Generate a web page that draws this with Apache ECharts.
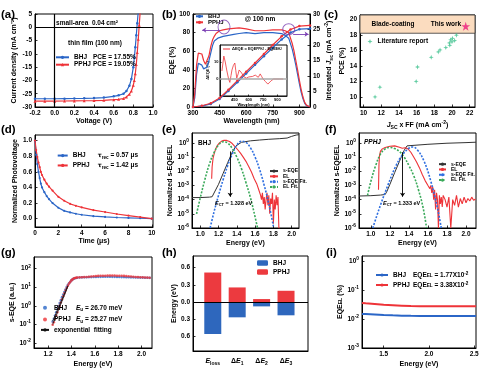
<!DOCTYPE html>
<html><head><meta charset="utf-8">
<script src="https://cdn.jsdelivr.net/npm/echarts@6/dist/echarts.min.js"></script>
<style>html,body{margin:0;padding:0;background:#fff}#c{width:500px;height:372px}</style>
</head><body><div id="c"></div>
<script>
// ---------------- DATA ----------------
// (a) J-V
const aVoltage = [-0.2,-0.1,0,0.1,0.2,0.3,0.4,0.5,0.6,0.65,0.7,0.73,0.76,0.78,0.8,0.81,0.82,0.83,0.84,0.85,0.86,0.87,0.88];
const aJ_BHJ  = [-26.9,-26.9,-26.9,-26.85,-26.8,-26.75,-26.65,-26.45,-26.0,-25.6,-25.0,-24.0,-22.0,-19.5,-15.0,-11.5,-7.5,-3.0,1.5,6.0,10,14,18];
const aJ_PPHJ = [-27.8,-27.8,-27.8,-27.75,-27.7,-27.65,-27.6,-27.5,-27.25,-27.1,-26.8,-26.2,-25.2,-24.0,-21.8,-20.0,-17.5,-14.0,-9.5,-4.5,0.8,6.0,11];
// (b) EQE + integrated Jsc
const bWave = [300,310,320,330,340,350,360,370,380,390,400,410,420,430,440,450,470,500,530,560,600,650,700,750,800,820,840,860,870,880,890,900,910,920,930,940,950,960];
const bEQE_BHJ  = [0,10,35,47,48,45,41,40,43,50,58,66,71,73,74,75,76,77,78,79,80,79,80,80,79,77,74,62,54,45,35,25,16,9,4,1.5,0.5,0];
const bEQE_PPHJ = [0,15,45,58,60,57,50,46,48,55,65,72,76,79,81,82,83,84,84.5,85,84,82,82,83,83,82,80,68,60,50,40,29,19,11,5,2,0.5,0];
const bJscWave  = [300,350,400,450,500,550,600,650,700,750,800,850,900,960];
const bJsc_BHJ  = [0,0.3,1.0,2.6,5.2,8.0,10.8,13.6,16.4,19.1,21.8,24.0,25.1,25.3];
const bJsc_PPHJ = [0,0.4,1.2,2.9,5.6,8.5,11.4,14.2,17.1,20.0,22.8,25.0,26.1,26.3];
const insWave  = [320,340,355,372,390,403,415,425,440,455,465,475,490,500,515,527,545,555,575,600,616,640,668,685,700,720,735,750,775,800,820,835,860,885,920,960];
const insDelta = [4.7,13.5,10,4.7,0,-2,2,5.3,8,9.4,5,0.6,3,5.3,4.5,3.5,1.5,0.6,0.5,1.2,1.8,1.5,2.3,1.5,1,3,1.5,0,-1.5,-3,-2,-1,0,0,0,0];
// (c) literature
const cJscFF = [11.3,11.85,15.95,16.1,17.65,18.45,18.65,19.3,19.7,19.75,19.85,20.05,20.3,20.5,20.0];
const cPCE   = [10.0,11.25,12.0,13.85,15.1,15.8,16.05,16.35,16.95,16.65,17.35,17.55,17.25,17.95,17.1];
const cThisWorkX = [21.55];
const cThisWorkY = [19.1];
// (d) TPV
const dTime = [0,0.1,0.2,0.3,0.4,0.5,0.6,0.8,1.0,1.2,1.5,2,2.5,3,3.5,4,5,6,7,8,9,10];
const dBHJ  = [1.0,0.82,0.70,0.60,0.52,0.45,0.40,0.34,0.29,0.25,0.20,0.14,0.10,0.08,0.063,0.05,0.032,0.022,0.015,0.01,0.005,0.0];
const dPPHJ = [1.0,0.88,0.79,0.72,0.66,0.60,0.56,0.50,0.45,0.41,0.36,0.28,0.23,0.19,0.165,0.145,0.11,0.085,0.06,0.04,0.02,0.0];
// (e) BHJ s-EQE / EL
const eE_sEQE = [0.91,1.0,1.1,1.13,1.15,1.2,1.25,1.3,1.35,1.39,1.45,1.55,1.65,1.75,1.87,1.95,2.0,2.05,2.08];
const eV_sEQE = [1.4e-4,1.4e-4,1.5e-4,1.6e-4,2e-4,1.2e-3,7e-3,4e-2,0.22,0.6,1.1,1.4,1.6,1.8,2.0,2.2,2.9,3.6,3.8];
const eE_EL = [1.125,1.13,1.14,1.155,1.17,1.19,1.21,1.235,1.26,1.29,1.32,1.35,1.38,1.41,1.44,1.47,1.5,1.53,1.56,1.59,1.62,1.64,1.66,1.67,1.68,1.69,1.70,1.71,1.72,1.73,1.74,1.75,1.76,1.77,1.78,1.79,1.80,1.81,1.82,1.83,1.84,1.85,1.86,1.87];
const eV_EL = [3e-3,2e-2,0.08,0.2,0.4,0.7,1.0,1.35,1.55,1.5,1.25,0.9,0.55,0.33,0.19,0.1,0.05,0.022,0.009,0.003,1.2e-3,5e-4,2e-4,1e-4,3e-4,5e-5,1.5e-4,2e-5,1e-4,3e-4,4e-5,2e-4,1e-5,1.2e-4,5e-5,3e-4,2e-6,1e-4,2e-5,2e-4,4e-5,1.5e-4,1e-6,1e-6];
const eE_sFit = [1.10,1.15,1.2,1.25,1.3,1.35,1.4,1.45,1.5,1.55,1.6,1.65,1.7,1.75,1.8];
const eV_sFit = [6e-7,1.3e-5,2e-4,2.5e-3,2.5e-2,0.16,0.7,1.3,1.1,0.45,0.1,1.3e-2,1e-3,5e-5,1.3e-6];
const eE_elFit = [0.96,1.0,1.05,1.1,1.15,1.2,1.25,1.3,1.35,1.4,1.45,1.5,1.55,1.6,1.63];
const eV_elFit = [1e-5,1.3e-4,2.5e-3,3.2e-2,0.2,0.7,1.2,1.0,0.4,0.1,1.6e-2,1.6e-3,1.3e-4,6e-6,8e-7];
// (f) PPHJ s-EQE / EL
const fE_sEQE = [0.875,1.0,1.1,1.15,1.17,1.2,1.25,1.3,1.35,1.38,1.4,1.6,1.8,2.0,2.105];
const fV_sEQE = [1.8e-4,1.9e-4,2.1e-4,2.3e-4,4e-4,1.2e-3,8e-3,5e-2,0.3,0.62,0.66,0.8,0.95,1.05,1.12];
const fE_EL = [1.08,1.085,1.09,1.1,1.12,1.15,1.2,1.25,1.3,1.33,1.36,1.39,1.42,1.45,1.48,1.51,1.54,1.57,1.6,1.62,1.63,1.64,1.65,1.66,1.67,1.68,1.69,1.70,1.71,1.72,1.73,1.74,1.75,1.76,1.78,1.8,1.82,1.84,1.86,1.88,1.9,1.92,1.94,1.96,1.98,2.0,2.02,2.04,2.06,2.08,2.1];
const fV_EL = [5e-4,0.03,0.12,0.25,0.38,0.48,0.58,0.62,0.5,0.42,0.45,0.38,0.22,0.1,0.045,0.018,6e-3,2.2e-3,1e-3,6e-4,1e-3,3e-4,8e-4,1e-4,5e-4,2e-5,3e-4,1e-4,1e-6,2e-4,5e-5,1.5e-4,3e-5,2e-4,1e-4,3e-5,1.5e-4,1e-6,1e-4,4e-5,2e-4,3e-5,1.2e-4,5e-5,1.5e-4,6e-5,1.2e-4,8e-5,1.5e-4,9e-5,1.1e-4];
const fE_sFit = [1.02,1.1,1.18,1.26,1.33,1.4,1.44,1.49,1.56,1.63,1.7,1.74];
const fV_sFit = [1e-6,4e-5,1.1e-3,2.2e-2,0.14,0.42,0.52,0.32,5e-2,2e-3,2.5e-5,1e-6];
const fE_elFit = [0.965,1.0,1.05,1.1,1.15,1.2,1.25,1.3,1.35,1.4,1.45,1.5,1.55,1.585];
const fV_elFit = [2e-4,2e-3,2.5e-2,0.16,0.38,0.48,0.4,0.25,0.1,2.5e-2,5e-3,5e-4,2.5e-5,1e-6];
// (g) Urbach
const gE = [1.24,1.25,1.26,1.27,1.28,1.29,1.30,1.31,1.32,1.33,1.34,1.35,1.36,1.37,1.38,1.39,1.40,1.41,1.42,1.43,1.44,1.45,1.47,1.49,1.51,1.53,1.55,1.57,1.59,1.61,1.63,1.65,1.67,1.69,1.71,1.73,1.75,1.77,1.79,1.81,1.83,1.85,1.87,1.89,1.91,1.93,1.95,1.97,1.99,2.01,2.03,2.05,2.07];
const gBHJ = [0.14,0.2,0.3,0.45,0.65,0.95,1.4,2.0,2.9,4.0,5.5,7.5,10,13,16,19.5,23,26,28.5,30,31,32,33,33.5,34,34,34.5,34.5,35,35,35.5,35.5,36,36,36,36,35.5,35.5,35,35,34.5,34.5,34,34,33.5,33.5,33,33,32.5,32.5,32,32,31.5];
const gPPHJ = [0.095,0.13,0.2,0.3,0.45,0.68,1.0,1.5,2.2,3.2,4.6,6.5,9,12,15.5,19,23,26,29,31,32,33,33.5,34,34.5,35,36,37,38,39,40,40.5,41,41,41.5,41.5,41.5,41.5,41,41,40.5,40,39,38,37,36,35,34.5,34,33.5,33,32.5,32];
const gFitE = [1.24,1.37];
const gFitBHJ = [0.15,12];
const gFitPPHJ = [0.1,11];
// (h) energy loss
const hCats  = ['E_loss','ΔE_1','ΔE_2','ΔE_3'];
const hBHJ   = [-0.555,-0.265,-0.075,-0.23];
const hPPHJ  = [0.513,0.254,0.052,0.196];
// (i) EQE_EL
const iE = [1.26,1.3,1.4,1.5,1.6,1.7,1.8,1.9,2.0,2.1,2.2,2.3,2.4,2.52];
const iBHJ  = [0.0150,0.0148,0.0143,0.0138,0.0134,0.0131,0.0129,0.0128,0.0127,0.0127,0.0127,0.0128,0.0128,0.0128];
const iPPHJ = [0.036,0.035,0.033,0.031,0.030,0.029,0.028,0.0278,0.0276,0.0275,0.0275,0.0274,0.0274,0.0274];

// ---------------- STYLE / HELPERS ----------------
const FONT = "'Liberation Sans', Arial, sans-serif";
const BLUE = '#2b66c7', RED = '#ee3338', GREEN = '#3cc08c', DGREEN = '#3aa95a', DBLUE = '#2f6fe0';
const PINK = '#ec1c7c', PURPLE = '#7b3fb3', PEACH = '#fbdcbf';
const STAR4 = 'path://M5,0 L6.3,3.7 L10,5 L6.3,6.3 L5,10 L3.7,6.3 L0,5 L3.7,3.7 Z';
const STAR5 = 'path://M50,0L61.8,35.1L98.8,35.1L68.9,56.8L80.3,91.9L50,70.2L19.7,91.9L31.1,56.8L1.2,35.1L38.2,35.1Z';
const zip = (xs, ys) => xs.map((x, i) => [x, ys[i]]);
function merge(a, b) {
  const o = Object.assign({}, a);
  for (const k in b) {
    const v = b[k];
    if (v && typeof v === 'object' && !Array.isArray(v) && a && a[k] && typeof a[k] === 'object' && !Array.isArray(a[k])) o[k] = merge(a[k], v);
    else o[k] = v;
  }
  return o;
}
function rich(fs, extra) {
  const base = {fontSize: fs, fontWeight: 'bold', fontFamily: FONT, color: '#000', lineHeight: fs + 3};
  return Object.assign({
    n: Object.assign({}, base),
    i: Object.assign({}, base, {fontStyle: 'italic'}),
    g: Object.assign({}, base, {fontFamily: 'DejaVu Sans', fontSize: fs * 0.95}),
    sb: Object.assign({}, base, {fontSize: fs * 0.72, lineHeight: fs * 0.8, verticalAlign: 'bottom'}),
    sp: Object.assign({}, base, {fontSize: fs * 0.72, lineHeight: fs * 0.8, verticalAlign: 'top'})
  }, extra || {});
}
const baseAxis = {
  type: 'value',
  axisLine: {show: true, onZero: false, lineStyle: {color: '#000', width: 1}},
  axisTick: {show: true, inside: true, length: 2.5, lineStyle: {color: '#000', width: 0.8}},
  axisLabel: {fontSize: 6.5, color: '#000', fontWeight: 'bold', fontFamily: FONT, margin: 3, rich: rich(6.5)},
  splitLine: {show: false},
  nameLocation: 'middle',
  nameTextStyle: {fontSize: 7, fontWeight: 'bold', color: '#000', fontFamily: FONT, rich: rich(7)}
};
const AX = (grid, o) => merge(merge(baseAxis, {gridIndex: grid}), o);
const fix1 = v => v.toFixed(1);
const logFmt = v => '{n|10}{sp|' + Math.round(Math.log10(v)) + '}';
const logAxis = (grid, o) => AX(grid, merge({type: 'log', logBase: 10, axisLabel: {formatter: logFmt, rich: rich(6.5, {sp: {fontSize: 4.8, fontWeight: 'bold', fontFamily: FONT, color: '#000', lineHeight: 5, verticalAlign: 'top'}})}}, o));
const catFmt = v => {
  const s = hCats[Math.round(v)] || '';
  const p = s.split('_');
  return p[0].replace('E', '{i|E}') + '{sb|' + p[1] + '}';
};

const LEG = {
  'a-BHJ': '{wa|BHJ}PCE = 17.55%', 'a-PPHJ': '{wa|PPHJ}PCE = 19.05%',
  'b-BHJ': 'BHJ', 'b-PPHJ': 'PPHJ',
  'c-lit': 'Literature report',
  'd-BHJ': '{wd|BHJ}{g|τ}{sb|rec} = 0.57 μs', 'd-PPHJ': '{wd|PPHJ}{g|τ}{sb|rec} = 1.42 μs',
  'e-s': 's-EQE', 'e-el': 'EL', 'e-sfit': 's-EQE Fit.', 'e-elfit': 'EL Fit.',
  'f-s': 's-EQE', 'f-el': 'EL', 'f-sfit': 's-EQE Fit.', 'f-elfit': 'EL Fit.',
  'g-BHJ': '{wg|BHJ}{i|E}{sb|u} = 26.70 meV', 'g-PPHJ': '{wg|PPHJ}{i|E}{sb|u} = 25.27 meV', 'g-fit': 'exponential  fitting',
  'h-BHJ': 'BHJ', 'h-PPHJ': 'PPHJ',
  'i-BHJ': '{wi|BHJ}EQE{sb|EL} = 1.77X10{sp|-2}', 'i-PPHJ': '{wi|PPHJ}EQE{sb|EL} = 3.38X10{sp|-2}'
};
function legend(data, left, top, o) {
  const fs = (o && o.fs) || 6.5;
  const lh = (o && o.lh) || 7;
  const r = rich(fs, {
    wa: {fontSize: fs, fontWeight: 'bold', fontFamily: FONT, width: 19, lineHeight: lh},
    wd: {fontSize: fs, fontWeight: 'bold', fontFamily: FONT, width: 25, lineHeight: lh},
    wg: {fontSize: fs, fontWeight: 'bold', fontFamily: FONT, width: 22, lineHeight: lh},
    wi: {fontSize: fs, fontWeight: 'bold', fontFamily: FONT, width: 20, lineHeight: lh}
  });
  return merge({
    data: data, left: left, top: top, orient: 'vertical', padding: 0, itemGap: 0.4,
    itemWidth: 12, itemHeight: 4, selectedMode: false,
    formatter: n => LEG[n],
    textStyle: {fontSize: fs, fontWeight: 'bold', color: '#000', fontFamily: FONT, lineHeight: lh, rich: r}
  }, o && o.extra || {});
}
const lineS = (name, xi, yi, xs, ys, color, o) => merge({
  name: name, type: 'line', xAxisIndex: xi, yAxisIndex: yi, data: zip(xs, ys),
  symbol: 'none', lineStyle: {color: color, width: 1.2}, itemStyle: {color: color}, z: 3
}, o || {});
const arrowML = (from, to, color) => ({
  silent: true, symbol: ['none', 'arrow'], symbolSize: 4, label: {show: false},
  lineStyle: {color: color, width: 0.9, type: 'solid'},
  data: [[{coord: from}, {coord: to}]]
});

const panelLabels = ['(a)', '(b)', '(c)', '(d)', '(e)', '(f)', '(g)', '(h)', '(i)'];
const panelPos = [[1, 9], [162, 9], [324, 9], [1, 124], [162, 124], [325, 124], [1, 247], [162, 247], [326, 247]];

const option = {
  animation: false,
  backgroundColor: '#fff',
  textStyle: {fontFamily: FONT},
  title: panelLabels.map((t, k) => ({text: t, left: panelPos[k][0], top: panelPos[k][1], padding: 0,
    textStyle: {fontSize: 11.5, fontWeight: 'bold', color: '#000', fontFamily: FONT}})),
  grid: [
    {left: 35, top: 14, width: 118, height: 93},
    {left: 193, top: 14, width: 117, height: 93},
    {left: 220, top: 45, width: 67, height: 51},
    {left: 360, top: 15, width: 115, height: 92},
    {left: 35, top: 135, width: 118, height: 92},
    {left: 192, top: 133, width: 107, height: 95},
    {left: 359, top: 133, width: 117, height: 95},
    {left: 34, top: 257, width: 118, height: 91},
    {left: 193, top: 256, width: 115, height: 95},
    {left: 362, top: 256, width: 114, height: 92}
  ].map(g => Object.assign({show: true, borderColor: '#000', borderWidth: 1, backgroundColor: 'transparent', containLabel: false}, g)),
  xAxis: [
    AX(0, {min: -0.2, max: 1.0, interval: 0.2, axisLabel: {formatter: fix1}, name: 'Voltage (V)', nameGap: 11}),
    AX(1, {min: 300, max: 960, interval: 150, name: 'Wavelength (nm)', nameGap: 11}),
    AX(2, {min: 300, max: 1000, axisLabel: {fontSize: 4, margin: 1.5, customValues: [450, 600, 750, 900]}, axisTick: {length: 1.5, customValues: [450, 600, 750, 900]},
      name: 'Wavelength (nm)', nameGap: 6, nameTextStyle: {fontSize: 4}, axisLine: {lineStyle: {width: 0.8}}}),
    AX(3, {min: 9.6, max: 22.6, axisLabel: {customValues: [10, 12, 14, 16, 18, 20, 22]}, axisTick: {customValues: [10, 12, 14, 16, 18, 20, 22]},
      name: '{i|J}{sb|SC} x FF (mA cm{sp|-2})', nameGap: 13}),
    AX(4, {min: 0, max: 10.1, interval: 2, name: 'Time (μs)', nameGap: 11}),
    AX(5, {min: 0.91, max: 2.08, axisLabel: {formatter: fix1, customValues: [1.0, 1.2, 1.4, 1.6, 1.8, 2.0]}, axisTick: {customValues: [1.0, 1.2, 1.4, 1.6, 1.8, 2.0]}, name: 'Energy (eV)', nameGap: 12}),
    AX(6, {min: 0.875, max: 2.105, axisLabel: {formatter: fix1, customValues: [1.0, 1.2, 1.4, 1.6, 1.8, 2.0]}, axisTick: {customValues: [1.0, 1.2, 1.4, 1.6, 1.8, 2.0]}, name: 'Energy (eV)', nameGap: 12}),
    AX(7, {min: 1.08, max: 2.09, axisLabel: {formatter: fix1, customValues: [1.2, 1.4, 1.6, 1.8, 2.0]}, axisTick: {customValues: [1.2, 1.4, 1.6, 1.8, 2.0]}, name: 'Energy (eV)', nameGap: 13}),
    AX(8, {min: -0.81, max: 3.9, axisLabel: {formatter: catFmt, margin: 5, fontSize: 7, rich: rich(7), customValues: [0, 1, 2, 3]}, axisTick: {show: false}}),
    AX(9, {min: 1.26, max: 2.52, axisLabel: {formatter: fix1, customValues: [1.5, 2.0, 2.5]}, axisTick: {customValues: [1.5, 2.0, 2.5]}, name: 'Energy (eV)', nameGap: 13})
  ],
  yAxis: [
    AX(0, {min: -30, max: 5, interval: 5, name: 'Current density (mA cm⁻²)', nameGap: 17}),
    AX(1, {min: 0, max: 100, interval: 20, name: 'EQE (%)', nameGap: 15}),
    AX(1, {position: 'right', min: 0, max: 30, interval: 5, name: 'Integrated {i|J}{sb|sc} (mA cm{sp|-2})', nameGap: 12}),
    AX(2, {min: -10, max: 20, axisLabel: {fontSize: 4, margin: 1.5, customValues: [0, 10]}, axisTick: {length: 1.5, customValues: [0, 10]},
      name: 'ΔEQE (%)', nameGap: 6, nameTextStyle: {fontSize: 4}, axisLine: {lineStyle: {width: 0.8}}}),
    AX(3, {min: 8.7, max: 20.55, axisLabel: {customValues: [10, 12, 14, 16, 18, 20]}, axisTick: {customValues: [10, 12, 14, 16, 18, 20]}, name: 'PCE (%)', nameGap: 14}),
    AX(4, {min: -0.107, max: 1.073, axisLabel: {formatter: fix1, customValues: [0, 0.2, 0.4, 0.6, 0.8, 1.0]}, axisTick: {customValues: [0, 0.2, 0.4, 0.6, 0.8, 1.0]}, name: 'Normalized Photovoltage', nameGap: 16}),
    logAxis(5, {min: 1e-6, max: 5, axisLabel: {showMaxLabel: false}, name: 'Normalized s-EQE/EL', nameGap: 16}),
    logAxis(6, {min: 1e-6, max: 5, axisLabel: {showMaxLabel: false}, name: 'Normalized s-EQE/EL', nameGap: 16}),
    logAxis(7, {min: 0.0054, max: 414, axisLabel: {showMaxLabel: false, showMinLabel: false}, name: 's-EQE (a.u.)', nameGap: 15}),
    AX(8, {min: -0.85, max: 0.8, axisLabel: {formatter: v => Math.abs(v).toFixed(1), customValues: [-0.6, -0.3, 0, 0.3, 0.6]}, axisTick: {customValues: [-0.6, -0.3, 0, 0.3, 0.6]}, name: 'Energy (eV)', nameGap: 15}),
    logAxis(9, {min: 0.001, max: 1.5, axisLabel: {showMaxLabel: false}, name: 'EQE{sb|EL} (%)', nameGap: 16})
  ],
  legend: [
    legend(['a-BHJ', 'a-PPHJ'], 55, 53.8, {extra: {itemWidth: 13}}),
    legend(['b-BHJ', 'b-PPHJ'], 195, 13.3, {fs: 6, lh: 5.3, extra: {itemWidth: 7, itemGap: 0}}),
    legend(['c-lit'], 367.5, 38, {extra: {itemWidth: 5, itemHeight: 5}}),
    legend(['d-BHJ', 'd-PPHJ'], 56.7, 150.8, {extra: {itemWidth: 10}}),
    legend(['e-s', 'e-el', 'e-sfit', 'e-elfit'], 269, 168.4, {fs: 5, lh: 5.3, extra: {itemWidth: 8, itemGap: 0}}),
    legend(['f-s', 'f-el', 'f-sfit', 'f-elfit'], 438, 161.5, {fs: 5, lh: 5.3, extra: {itemWidth: 7, itemGap: 0}}),
    legend(['g-BHJ', 'g-PPHJ', 'g-fit'], 40, 303, {extra: {itemWidth: 8, itemGap: 2.2}}),
    legend(['h-BHJ', 'h-PPHJ'], 257, 259.5, {extra: {itemWidth: 11, itemHeight: 5.5, itemGap: 2}}),
    legend(['i-BHJ', 'i-PPHJ'], 375, 271.5, {extra: {itemWidth: 12, itemGap: 3}})
  ],
  series: [
    // (a)
    lineS('a-BHJ', 0, 0, aVoltage, aJ_BHJ, BLUE, {symbol: 'circle', symbolSize: 2.5,
      markLine: {silent: true, symbol: 'none', label: {show: false}, lineStyle: {color: '#000', width: 1.2, type: 'solid'}, data: [{yAxis: 0}, {xAxis: 0}]}}),
    lineS('a-PPHJ', 0, 0, aVoltage, aJ_PPHJ, RED, {symbol: 'triangle', symbolSize: 3}),
    // (b)
    lineS('b-BHJ', 1, 2, bJscWave, bJsc_BHJ, BLUE, {symbol: 'circle', symbolSize: 2.5}),
    lineS('b-PPHJ', 1, 2, bJscWave, bJsc_PPHJ, RED, {symbol: 'circle', symbolSize: 2.5}),
    lineS('b-BHJ', 1, 1, bWave, bEQE_BHJ, BLUE),
    lineS('b-PPHJ', 1, 1, bWave, bEQE_PPHJ, RED),
    {type: 'scatter', xAxisIndex: 1, yAxisIndex: 1, data: [[475, 86]], symbolSize: [12, 14], silent: true, z: 5,
      itemStyle: {color: 'rgba(0,0,0,0)', borderColor: PURPLE, borderWidth: 1},
      markLine: arrowML([452, 82.7], [352, 82.7], PURPLE)},
    {type: 'scatter', xAxisIndex: 1, yAxisIndex: 2, data: [[840, 25.1]], symbolSize: [12, 11], silent: true, z: 5,
      itemStyle: {color: 'rgba(0,0,0,0)', borderColor: PURPLE, borderWidth: 1},
      markLine: arrowML([865, 23.5], [952, 23.5], PURPLE)},
    lineS('ins', 2, 3, insWave, insDelta, RED, {lineStyle: {width: 0.8},
      markLine: {silent: true, symbol: 'none', label: {show: false}, lineStyle: {color: '#aaa', width: 1.5, type: 'solid'}, data: [{yAxis: 0}]}}),
    // (c)
    {name: 'c-lit', type: 'scatter', xAxisIndex: 3, yAxisIndex: 4, data: zip(cJscFF, cPCE), symbol: STAR4, symbolSize: 5, itemStyle: {color: GREEN},
      markArea: {silent: true, itemStyle: {color: PEACH, borderColor: '#333', borderWidth: 0.8}, data: [[{yAxis: 18.2}, {yAxis: 20.55}]]}},
    {name: 'c-this', type: 'scatter', xAxisIndex: 3, yAxisIndex: 4, data: zip(cThisWorkX, cThisWorkY), symbol: STAR5, symbolSize: 9, itemStyle: {color: PINK}, z: 5},
    // (d)
    lineS('d-BHJ', 4, 5, dTime, dBHJ, BLUE, {symbol: 'circle', symbolSize: 2.2}),
    lineS('d-PPHJ', 4, 5, dTime, dPPHJ, RED, {symbol: 'circle', symbolSize: 2.2}),
    // (e)
    lineS('e-s', 5, 6, eE_sEQE, eV_sEQE, '#333', {lineStyle: {width: 1}, markLine: arrowML([1.328, 0.25], [1.328, 1.6e-4], '#000')}),
    lineS('e-el', 5, 6, eE_EL, eV_EL, RED, {lineStyle: {width: 1.1}}),
    lineS('e-sfit', 5, 6, eE_sFit, eV_sFit, DBLUE, {smooth: 0.4, lineStyle: {width: 1.6, type: [2, 1.5]}}),
    lineS('e-elfit', 5, 6, eE_elFit, eV_elFit, DGREEN, {smooth: 0.4, lineStyle: {width: 1.6, type: [2, 1.5]}}),
    // (f)
    lineS('f-s', 6, 7, fE_sEQE, fV_sEQE, '#333', {lineStyle: {width: 1}, markLine: arrowML([1.333, 0.22], [1.333, 1.6e-4], '#000')}),
    lineS('f-el', 6, 7, fE_EL, fV_EL, RED, {lineStyle: {width: 1.1}}),
    lineS('f-sfit', 6, 7, fE_sFit, fV_sFit, DBLUE, {smooth: 0.4, lineStyle: {width: 1.6, type: [2, 1.5]}}),
    lineS('f-elfit', 6, 7, fE_elFit, fV_elFit, DGREEN, {smooth: 0.4, lineStyle: {width: 1.6, type: [2, 1.5]}}),
    // (g)
    {name: 'g-BHJ', type: 'scatter', xAxisIndex: 7, yAxisIndex: 8, data: zip(gE, gBHJ), symbolSize: 2.6, itemStyle: {color: BLUE}},
    {name: 'g-PPHJ', type: 'scatter', xAxisIndex: 7, yAxisIndex: 8, data: zip(gE, gPPHJ), symbolSize: 2.6, itemStyle: {color: RED}},
    lineS('g-fit', 7, 8, gFitE, gFitBHJ, '#111', {lineStyle: {width: 0.8}}),
    lineS('g-fit', 7, 8, gFitE, gFitPPHJ, '#111', {lineStyle: {width: 0.8}}),
    // (h)
    {name: 'h-PPHJ', type: 'bar', xAxisIndex: 8, yAxisIndex: 9, stack: 'h', barWidth: 17, data: zip(hCats.map((c, k) => k), hPPHJ), itemStyle: {color: '#ec3a3f'},
      markLine: {silent: true, symbol: 'none', label: {show: false}, lineStyle: {color: '#000', width: 1.2, type: 'solid'}, data: [{yAxis: 0}]}},
    {name: 'h-BHJ', type: 'bar', xAxisIndex: 8, yAxisIndex: 9, stack: 'h', barWidth: 17, data: zip(hCats.map((c, k) => k), hBHJ), itemStyle: {color: '#2e67bd'}},
    // (i)
    lineS('i-BHJ', 9, 10, iE, iBHJ, BLUE, {lineStyle: {width: 2}}),
    lineS('i-PPHJ', 9, 10, iE, iPPHJ, RED, {lineStyle: {width: 2}})
  ],
  graphic: [
    {type: 'text', x: 87, y: 23, z: 100, style: {text: 'small-area  0.04 cm²', fontSize: 6.5, fontWeight: 'bold', fontFamily: FONT, fill: '#000', align: 'center', verticalAlign: 'middle'}},
    {type: 'text', x: 95, y: 43, z: 100, style: {text: 'thin film (100 nm)', fontSize: 6.5, fontWeight: 'bold', fontFamily: FONT, fill: '#000', align: 'center', verticalAlign: 'middle'}},
    {type: 'text', x: 260, y: 19, z: 100, style: {text: '@ 100 nm', fontSize: 6.5, fontWeight: 'bold', fontFamily: FONT, fill: '#000', align: 'center', verticalAlign: 'middle'}},
    {type: 'text', x: 393, y: 24, z: 100, style: {text: 'Blade-coating', fontSize: 6.5, fontWeight: 'bold', fontFamily: FONT, fill: '#000', align: 'center', verticalAlign: 'middle'}},
    {type: 'text', x: 446, y: 24, z: 100, style: {text: 'This work', fontSize: 6.5, fontWeight: 'bold', fontFamily: FONT, fill: '#000', align: 'center', verticalAlign: 'middle'}},
    {type: 'text', x: 198, y: 143, z: 100, style: {text: 'BHJ', fontSize: 6.5, fontWeight: 'bold', fontFamily: FONT, fill: '#000', align: 'left', verticalAlign: 'middle'}},
    {type: 'text', x: 364, y: 142, z: 100, style: {text: 'PPHJ', fontSize: 6.5, fontWeight: 'bold', fontStyle: 'italic', fontFamily: FONT, fill: '#000', align: 'left', verticalAlign: 'middle'}},
    {type: 'text', x: 215, y: 203, z: 100, style: {text: '{i|E}{sb|CT} = 1.328 eV', rich: rich(5.5), fontSize: 5.5, fontWeight: 'bold', fontFamily: FONT, fill: '#000', align: 'left', verticalAlign: 'middle'}},
    {type: 'text', x: 383, y: 203, z: 100, style: {text: '{i|E}{sb|CT} = 1.333 eV', rich: rich(5.5), fontSize: 5.5, fontWeight: 'bold', fontFamily: FONT, fill: '#000', align: 'left', verticalAlign: 'middle'}},
    {type: 'line', z: 100, shape: {x1: 223, y1: 49, x2: 230, y2: 49}, style: {stroke: RED, lineWidth: 1}},
    {type: 'text', x: 232, y: 49, z: 100, style: {text: 'ΔEQE = EQE{sb|PPHJ} - EQE{sb|BHJ}', rich: rich(4), fontSize: 4, fontWeight: 'bold', fontFamily: FONT, fill: '#000', align: 'left', verticalAlign: 'middle'}}
  ]
};
const chart = echarts.init(document.getElementById('c'), null, {renderer: 'canvas'});
chart.setOption(option);
</script></body></html>
